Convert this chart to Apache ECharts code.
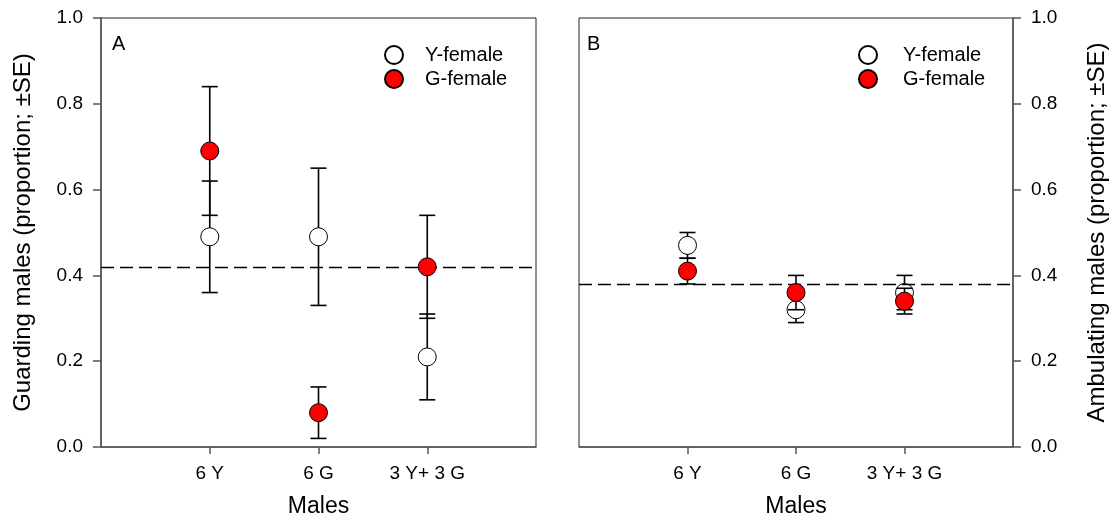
<!DOCTYPE html>
<html>
<head>
<meta charset="utf-8">
<script src="https://cdn.jsdelivr.net/npm/echarts@6/dist/echarts.min.js"></script>
<style>
  html, body { margin: 0; padding: 0; background: #fff; }
  #chart { width: 1111px; height: 523px; }
</style>
</head>
<body>
<div id="chart"></div>
<script>
// treatment groups (x positions 1..3 on a 0..4 axis)
const categories = ['6 Y', '6 G', '3 Y+ 3 G'];
const xPos = [1, 2, 3];

// panel A: guarding males
const guardY = [0.49, 0.49, 0.21];
const guardYLow = [0.36, 0.33, 0.11];
const guardYHigh = [0.62, 0.65, 0.31];
const guardG = [0.69, 0.08, 0.42];
const guardGLow = [0.54, 0.02, 0.30];
const guardGHigh = [0.84, 0.14, 0.54];
const guardRef = 0.42;

// panel B: ambulating males
const ambY = [0.47, 0.32, 0.36];
const ambYLow = [0.44, 0.29, 0.32];
const ambYHigh = [0.50, 0.35, 0.40];
const ambG = [0.41, 0.36, 0.34];
const ambGLow = [0.38, 0.32, 0.31];
const ambGHigh = [0.44, 0.40, 0.37];
const ambRef = 0.38;

const FONT = '"Liberation Sans", Arial, sans-serif';

function points(vals) {
  return vals.map((v, i) => [xPos[i], v]);
}
function bars(lo, hi) {
  return lo.map((l, i) => [xPos[i], l, hi[i]]);
}

// error bar with caps
function renderErr(params, api) {
  const x = api.value(0);
  const top = api.coord([x, api.value(2)]);
  const bot = api.coord([x, api.value(1)]);
  const w = 8;
  const st = { stroke: '#000', lineWidth: 1.6 };
  return {
    type: 'group',
    children: [
      { type: 'line', shape: { x1: top[0], y1: top[1], x2: bot[0], y2: bot[1] }, style: st },
      { type: 'line', shape: { x1: top[0] - w, y1: top[1], x2: top[0] + w, y2: top[1] }, style: st },
      { type: 'line', shape: { x1: bot[0] - w, y1: bot[1], x2: bot[0] + w, y2: bot[1] }, style: st }
    ]
  };
}

function refLine(v) {
  return {
    silent: true,
    symbol: 'none',
    label: { show: false },
    lineStyle: { color: '#000', type: [13, 6], width: 1.4 },
    data: [{ yAxis: v }]
  };
}

function xAxis(idx) {
  return {
    type: 'value', gridIndex: idx, min: 0, max: 4, interval: 1,
    splitLine: { show: false },
    axisLine: { onZero: false, lineStyle: { color: '#555', width: 1.5 } },
    axisTick: { length: 7, customValues: xPos, lineStyle: { color: '#555', width: 1.5 } },
    axisLabel: {
      customValues: xPos, margin: 17, color: '#000', fontSize: 19, fontFamily: FONT,
      formatter: v => categories[v - 1] || ''
    },
    name: 'Males', nameLocation: 'middle', nameGap: 48,
    nameTextStyle: { fontSize: 23, color: '#000', fontFamily: FONT }
  };
}

function yAxis(idx, pos, name, gap) {
  return {
    type: 'value', gridIndex: idx, position: pos, min: 0, max: 1, interval: 0.2,
    splitLine: { show: false },
    axisLine: { show: true, onZero: false, lineStyle: { color: '#555', width: 1.5 } },
    axisTick: { show: true, length: 8, lineStyle: { color: '#555', width: 1.5 } },
    axisLabel: { margin: 18, color: '#000', fontSize: 19, fontFamily: FONT, formatter: v => v.toFixed(1) },
    name: name, nameLocation: 'middle', nameRotate: 90, nameGap: gap,
    nameTextStyle: { fontSize: 24, color: '#000', fontFamily: FONT }
  };
}

function legend(left, pad) {
  return {
    data: ['Y-female', 'G-female'], orient: 'vertical', left: left, top: 45,
    padding: 0, itemWidth: 18, itemHeight: 18, itemGap: 4, icon: 'circle',
    selectedMode: false,
    textStyle: { fontSize: 20, color: '#000', fontFamily: FONT, padding: [0, 0, 0, pad] }
  };
}

const markerY = { color: '#fff', borderColor: '#000', borderWidth: 1, opacity: 1 };
const markerG = { color: '#ff0000', borderColor: '#000', borderWidth: 1, opacity: 1 };

const chart = echarts.init(document.getElementById('chart'));
chart.setOption({
  animation: false,
  backgroundColor: '#fff',
  title: [
    { text: 'A', left: 112, top: 34, padding: 0, textStyle: { fontSize: 20, fontWeight: 'normal', color: '#000', fontFamily: FONT } },
    { text: 'B', left: 587, top: 34, padding: 0, textStyle: { fontSize: 20, fontWeight: 'normal', color: '#000', fontFamily: FONT } }
  ],
  legend: [legend(384, 17), legend(858, 21)],
  grid: [
    { left: 101, top: 18, width: 435, height: 431, show: true, borderColor: '#222', borderWidth: 1 },
    { left: 579, top: 18, width: 434, height: 431, show: true, borderColor: '#222', borderWidth: 1 }
  ],
  xAxis: [xAxis(0), xAxis(1)],
  yAxis: [
    yAxis(0, 'left', 'Guarding males (proportion; \u00b1SE)', 66),
    yAxis(1, 'right', 'Ambulating males (proportion; \u00b1SE)', 72)
  ],
  series: [
    { type: 'custom', xAxisIndex: 0, yAxisIndex: 0, z: 2, renderItem: renderErr,
      encode: { x: 0, y: [1, 2] }, data: bars(guardYLow, guardYHigh), markLine: refLine(guardRef) },
    { type: 'scatter', name: 'Y-female', xAxisIndex: 0, yAxisIndex: 0, z: 3, symbolSize: 18,
      itemStyle: markerY, data: points(guardY) },
    { type: 'custom', xAxisIndex: 0, yAxisIndex: 0, z: 4, renderItem: renderErr,
      encode: { x: 0, y: [1, 2] }, data: bars(guardGLow, guardGHigh) },
    { type: 'scatter', name: 'G-female', xAxisIndex: 0, yAxisIndex: 0, z: 5, symbolSize: 18,
      itemStyle: markerG, data: points(guardG) },

    { type: 'custom', xAxisIndex: 1, yAxisIndex: 1, z: 2, renderItem: renderErr,
      encode: { x: 0, y: [1, 2] }, data: bars(ambYLow, ambYHigh), markLine: refLine(ambRef) },
    { type: 'scatter', name: 'Y-female', xAxisIndex: 1, yAxisIndex: 1, z: 3, symbolSize: 18,
      itemStyle: markerY, data: points(ambY) },
    { type: 'custom', xAxisIndex: 1, yAxisIndex: 1, z: 4, renderItem: renderErr,
      encode: { x: 0, y: [1, 2] }, data: bars(ambGLow, ambGHigh) },
    { type: 'scatter', name: 'G-female', xAxisIndex: 1, yAxisIndex: 1, z: 5, symbolSize: 18,
      itemStyle: markerG, data: points(ambG) }
  ]
});
</script>
</body>
</html>
